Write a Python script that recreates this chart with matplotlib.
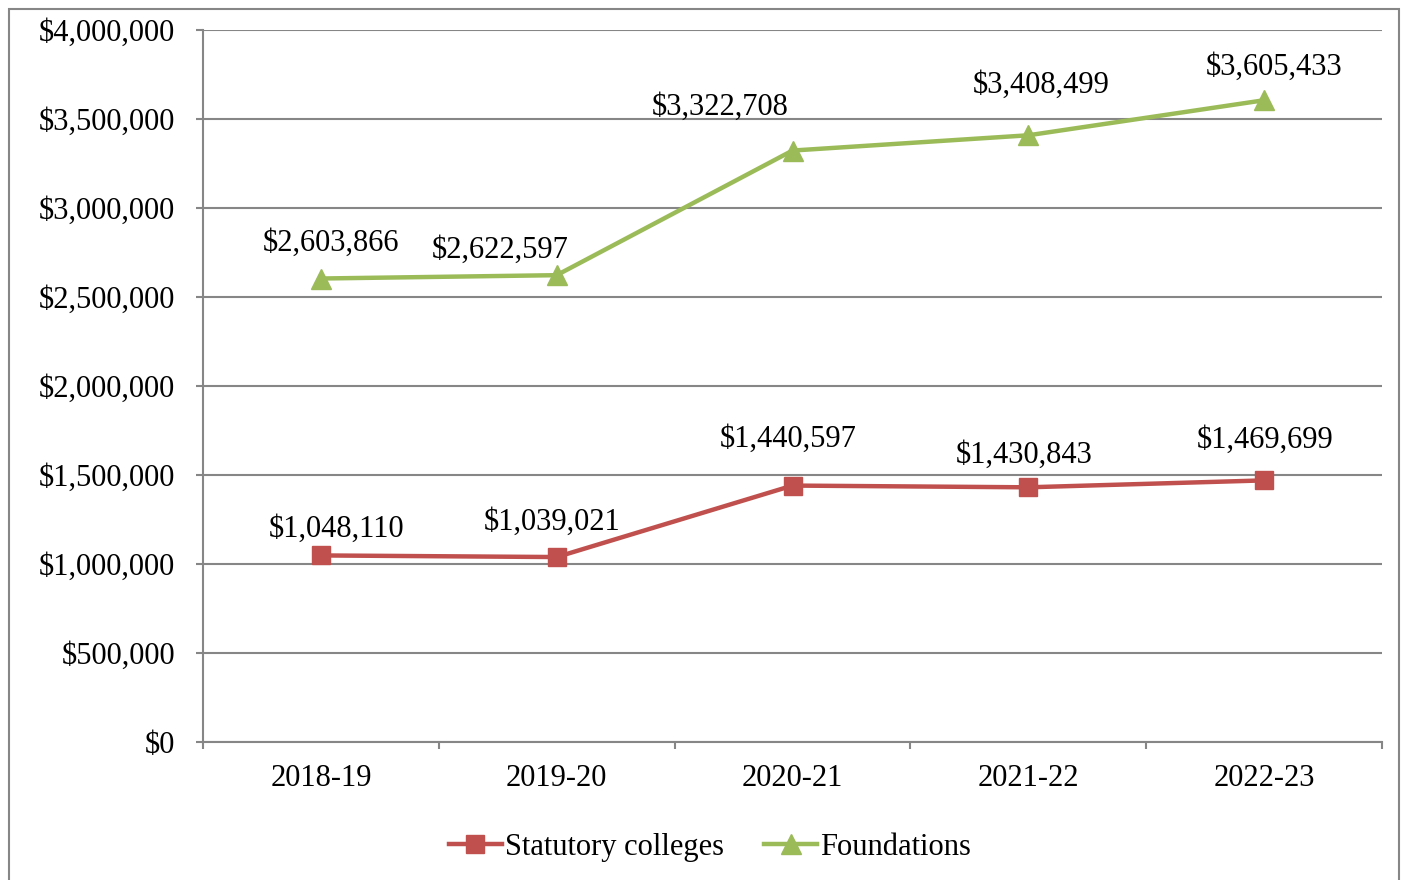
import matplotlib.pyplot as plt
from matplotlib.patches import Rectangle
from matplotlib.ticker import FuncFormatter, FixedLocator

years = ['2018-19', '2019-20', '2020-21', '2021-22', '2022-23']
statutory = [1048110, 1039021, 1440597, 1430843, 1469699]
foundations = [2603866, 2622597, 3322708, 3408499, 3605433]

# label offsets in points (dx, dy), set by hand like the original
stat_off = [(11, 19), (-3, 25), (-3, 33), (-3, 23), (1, 29)]
found_off = [(7, 25), (-41, 18), (-52, 31), (9, 36), (7, 24)]

red = '#C0504D'
green = '#9BBB59'
grey = '#868686'

plt.rcParams['font.family'] = ['Liberation Serif', 'DejaVu Serif']
fs = 22

fig = plt.figure(figsize=(14.08, 8.8), dpi=100)
ax = fig.add_axes([203/1408, 1 - 742/880, (1382-203)/1408, (742-30)/880])

x = list(range(len(years)))
ax.plot(x, statutory, color=red, lw=3.2, marker='s', ms=13, label='Statutory colleges')
ax.plot(x, foundations, color=green, lw=3.2, marker='^', ms=14.5, label='Foundations')

for i in x:
    ax.annotate(f'${statutory[i]:,}', (i, statutory[i]), xytext=stat_off[i],
                textcoords='offset points', ha='center', va='center', fontsize=fs)
    ax.annotate(f'${foundations[i]:,}', (i, foundations[i]), xytext=found_off[i],
                textcoords='offset points', ha='center', va='center', fontsize=fs)

ax.set_xlim(-0.5, 4.5)
ax.set_ylim(0, 4000000)
ax.set_yticks(range(0, 4000001, 500000))
ax.yaxis.set_major_formatter(FuncFormatter(lambda v, p: f'${int(v):,}'))
ax.set_xticks(x)
ax.set_xticklabels(years)
ax.xaxis.set_minor_locator(FixedLocator([-0.5, 0.5, 1.5, 2.5, 3.5, 4.5]))

ax.grid(axis='y', color=grey, lw=1.5)
ax.set_axisbelow(True)
for s in ['top', 'right']:
    ax.spines[s].set_visible(False)
for s in ['left', 'bottom']:
    ax.spines[s].set_color(grey)
    ax.spines[s].set_linewidth(1.5)

ax.tick_params(axis='y', length=5, width=1.5, color=grey, pad=15, labelsize=fs)
ax.tick_params(axis='x', which='major', length=0, pad=16, labelsize=fs)
ax.tick_params(axis='x', which='minor', length=5, width=1.5, color=grey)

fig.legend(loc='center', bbox_to_anchor=(710/1408, 1 - 847/880), ncol=2, frameon=False,
           fontsize=fs, handlelength=1.75, handletextpad=0.1, columnspacing=1.3)

fig.patches.append(Rectangle((9/1408, -0.05), 1390/1408, 1 - 9/880 + 0.05,
                             transform=fig.transFigure, fill=False, ec=grey, lw=1.5))

fig.savefig('out.png', dpi=100)
